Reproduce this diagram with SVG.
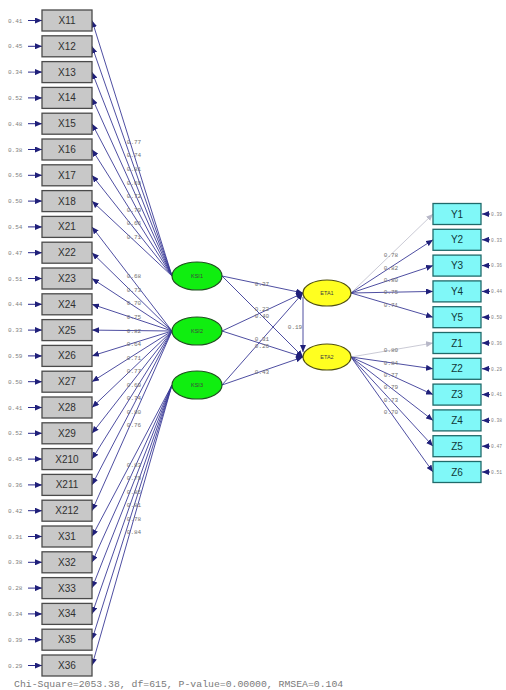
<svg xmlns="http://www.w3.org/2000/svg" width="506" height="690" viewBox="0 0 506 690">
<style>
.bx{fill:#c8c8c8;stroke:#4a4a4a;stroke-width:1.3}
.by{fill:#80f8f8;stroke:#206a6a;stroke-width:1.3}
.bt{font-family:"Liberation Sans",Arial,sans-serif;font-size:10px;fill:#303030;text-anchor:middle}
.byt{font-family:"Liberation Sans",Arial,sans-serif;font-size:10px;fill:#103838;text-anchor:middle}
.v{font-family:"Liberation Mono",monospace;font-size:6px;fill:#808080}
.vr{font-family:"Liberation Mono",monospace;font-size:4.6px;fill:#808080}
.vm{font-family:"Liberation Mono",monospace;font-size:6px;fill:#707070;text-anchor:middle}
.e{stroke:#26268a;stroke-width:1;fill:none}
.ln{stroke:#3a3a96;stroke-width:0.9;fill:none;marker-end:url(#ah)}
.lt{stroke:#c4c4d0;stroke-width:0.9;fill:none;marker-end:url(#ahl)}
.g{fill:#10ee10;stroke:#205020;stroke-width:1.2}
.y{fill:#ffff20;stroke:#505010;stroke-width:1.2}
.et{font-family:"Liberation Sans",Arial,sans-serif;font-size:5.5px;fill:#404040;text-anchor:middle}
.ft{font-family:"Liberation Mono",monospace;font-size:9.8px;fill:#7a7a7a}
</style>
<defs>
<marker id="ah" markerUnits="userSpaceOnUse" markerWidth="7" markerHeight="6" refX="7" refY="3" orient="auto"><path d="M0,0 L7,3 L0,6 z" fill="#20207a"/></marker>
<marker id="ahl" markerUnits="userSpaceOnUse" markerWidth="7" markerHeight="6" refX="7" refY="3" orient="auto"><path d="M0,0 L7,3 L0,6 z" fill="#b8b8c8"/></marker>
</defs>
<rect width="506" height="690" fill="#ffffff"/>
<g id="connectors">
<path class="ln" d="M172,276 L92,20.5"/><path class="ln" d="M172,276 L92,46.3"/><path class="ln" d="M172,276 L92,72.1"/><path class="ln" d="M172,276 L92,97.9"/>
<path class="ln" d="M172,276 L92,123.7"/><path class="ln" d="M172,276 L92,149.5"/><path class="ln" d="M172,276 L92,175.3"/><path class="ln" d="M172,276 L92,201.1"/>
<path class="ln" d="M172,331 L92,226.9"/><path class="ln" d="M172,331 L92,252.7"/><path class="ln" d="M172,331 L92,278.5"/><path class="ln" d="M172,331 L92,304.3"/>
<path class="ln" d="M172,331 L92,330.1"/><path class="ln" d="M172,331 L92,355.9"/><path class="ln" d="M172,331 L92,381.7"/><path class="ln" d="M172,331 L92,407.5"/>
<path class="ln" d="M172,331 L92,433.3"/><path class="ln" d="M172,331 L92,459.1"/><path class="ln" d="M172,331 L92,484.9"/><path class="ln" d="M172,331 L92,510.7"/>
<path class="ln" d="M172,385 L92,536.5"/><path class="ln" d="M172,385 L92,562.3"/><path class="ln" d="M172,385 L92,588.1"/><path class="ln" d="M172,385 L92,613.9"/>
<path class="ln" d="M172,385 L92,639.7"/><path class="ln" d="M172,385 L92,665.5"/>
<text class="vm" x="134" y="143.9">0.77</text><text class="vm" x="134" y="157.4">0.74</text><text class="vm" x="134" y="171">0.81</text><text class="vm" x="134" y="184.5">0.69</text>
<text class="vm" x="134" y="198">0.72</text><text class="vm" x="134" y="211.6">0.79</text><text class="vm" x="134" y="225.1">0.66</text><text class="vm" x="134" y="238.7">0.71</text>
<text class="vm" x="134" y="278.3">0.68</text><text class="vm" x="134" y="291.9">0.73</text><text class="vm" x="134" y="305.4">0.70</text><text class="vm" x="134" y="319">0.75</text>
<text class="vm" x="134" y="332.5">0.82</text><text class="vm" x="134" y="346.1">0.64</text><text class="vm" x="134" y="359.6">0.71</text><text class="vm" x="134" y="373.2">0.77</text>
<text class="vm" x="134" y="386.7">0.69</text><text class="vm" x="134" y="400.3">0.74</text><text class="vm" x="134" y="413.8">0.80</text><text class="vm" x="134" y="427.3">0.76</text>
<text class="vm" x="134" y="466.5">0.83</text><text class="vm" x="134" y="480.1">0.79</text><text class="vm" x="134" y="493.6">0.85</text><text class="vm" x="134" y="507.2">0.81</text>
<text class="vm" x="134" y="520.7">0.78</text><text class="vm" x="134" y="534.3">0.84</text>
<path class="ln" d="M222,276 L303,293"/><path class="ln" d="M222,276 L303,357"/>
<path class="ln" d="M222,331 L303,293"/><path class="ln" d="M222,331 L303,357"/>
<path class="ln" d="M222,385 L303,293"/><path class="ln" d="M222,385 L303,357"/>
<path class="ln" d="M303,297 L303,352"/>
<text class="vm" x="262" y="286">0.37</text><text class="vm" x="262" y="311">0.22</text><text class="vm" x="262" y="318">0.40</text>
<text class="vm" x="262" y="341">0.31</text><text class="vm" x="262" y="348">0.26</text><text class="vm" x="262" y="374">0.43</text>
<text class="vm" x="295" y="329">0.19</text>
<path class="lt" d="M351,293 L433,214"/><path class="ln" d="M351,293 L433,239.8"/><path class="ln" d="M351,293 L433,265.6"/>
<path class="ln" d="M351,293 L433,291.4"/><path class="ln" d="M351,293 L433,317.2"/>
<path class="lt" d="M351,357 L433,343"/><path class="ln" d="M351,357 L433,368.8"/><path class="ln" d="M351,357 L433,394.6"/>
<path class="ln" d="M351,357 L433,420.4"/><path class="ln" d="M351,357 L433,446.2"/><path class="ln" d="M351,357 L433,472"/>
<text class="vm" x="391" y="257.4">0.78</text><text class="vm" x="391" y="269.7">0.82</text><text class="vm" x="391" y="282">0.80</text>
<text class="vm" x="391" y="294.2">0.75</text><text class="vm" x="391" y="306.5">0.71</text>
<text class="vm" x="391" y="352.3">0.80</text><text class="vm" x="391" y="364.6">0.84</text><text class="vm" x="391" y="376.9">0.77</text>
<text class="vm" x="391" y="389.2">0.79</text><text class="vm" x="391" y="401.5">0.73</text><text class="vm" x="391" y="413.7">0.70</text>
</g>
<g id="X11" transform="translate(0,20.5)"><text class="v" x="8" y="2">0.41</text><path class="e" d="M28,0 L42,0" marker-end="url(#ah)"/><rect class="bx" x="42" y="-10.5" width="50" height="21"/><text class="bt" x="67" y="3.5">X11</text></g>
<g id="X12" transform="translate(0,46.3)"><text class="v" x="8" y="2">0.45</text><path class="e" d="M28,0 L42,0" marker-end="url(#ah)"/><rect class="bx" x="42" y="-10.5" width="50" height="21"/><text class="bt" x="67" y="3.5">X12</text></g>
<g id="X13" transform="translate(0,72.1)"><text class="v" x="8" y="2">0.34</text><path class="e" d="M28,0 L42,0" marker-end="url(#ah)"/><rect class="bx" x="42" y="-10.5" width="50" height="21"/><text class="bt" x="67" y="3.5">X13</text></g>
<g id="X14" transform="translate(0,97.9)"><text class="v" x="8" y="2">0.52</text><path class="e" d="M28,0 L42,0" marker-end="url(#ah)"/><rect class="bx" x="42" y="-10.5" width="50" height="21"/><text class="bt" x="67" y="3.5">X14</text></g>
<g id="X15" transform="translate(0,123.7)"><text class="v" x="8" y="2">0.48</text><path class="e" d="M28,0 L42,0" marker-end="url(#ah)"/><rect class="bx" x="42" y="-10.5" width="50" height="21"/><text class="bt" x="67" y="3.5">X15</text></g>
<g id="X16" transform="translate(0,149.5)"><text class="v" x="8" y="2">0.38</text><path class="e" d="M28,0 L42,0" marker-end="url(#ah)"/><rect class="bx" x="42" y="-10.5" width="50" height="21"/><text class="bt" x="67" y="3.5">X16</text></g>
<g id="X17" transform="translate(0,175.3)"><text class="v" x="8" y="2">0.56</text><path class="e" d="M28,0 L42,0" marker-end="url(#ah)"/><rect class="bx" x="42" y="-10.5" width="50" height="21"/><text class="bt" x="67" y="3.5">X17</text></g>
<g id="X18" transform="translate(0,201.1)"><text class="v" x="8" y="2">0.50</text><path class="e" d="M28,0 L42,0" marker-end="url(#ah)"/><rect class="bx" x="42" y="-10.5" width="50" height="21"/><text class="bt" x="67" y="3.5">X18</text></g>
<g id="X21" transform="translate(0,226.9)"><text class="v" x="8" y="2">0.54</text><path class="e" d="M28,0 L42,0" marker-end="url(#ah)"/><rect class="bx" x="42" y="-10.5" width="50" height="21"/><text class="bt" x="67" y="3.5">X21</text></g>
<g id="X22" transform="translate(0,252.7)"><text class="v" x="8" y="2">0.47</text><path class="e" d="M28,0 L42,0" marker-end="url(#ah)"/><rect class="bx" x="42" y="-10.5" width="50" height="21"/><text class="bt" x="67" y="3.5">X22</text></g>
<g id="X23" transform="translate(0,278.5)"><text class="v" x="8" y="2">0.51</text><path class="e" d="M28,0 L42,0" marker-end="url(#ah)"/><rect class="bx" x="42" y="-10.5" width="50" height="21"/><text class="bt" x="67" y="3.5">X23</text></g>
<g id="X24" transform="translate(0,304.3)"><text class="v" x="8" y="2">0.44</text><path class="e" d="M28,0 L42,0" marker-end="url(#ah)"/><rect class="bx" x="42" y="-10.5" width="50" height="21"/><text class="bt" x="67" y="3.5">X24</text></g>
<g id="X25" transform="translate(0,330.1)"><text class="v" x="8" y="2">0.33</text><path class="e" d="M28,0 L42,0" marker-end="url(#ah)"/><rect class="bx" x="42" y="-10.5" width="50" height="21"/><text class="bt" x="67" y="3.5">X25</text></g>
<g id="X26" transform="translate(0,355.9)"><text class="v" x="8" y="2">0.59</text><path class="e" d="M28,0 L42,0" marker-end="url(#ah)"/><rect class="bx" x="42" y="-10.5" width="50" height="21"/><text class="bt" x="67" y="3.5">X26</text></g>
<g id="X27" transform="translate(0,381.7)"><text class="v" x="8" y="2">0.50</text><path class="e" d="M28,0 L42,0" marker-end="url(#ah)"/><rect class="bx" x="42" y="-10.5" width="50" height="21"/><text class="bt" x="67" y="3.5">X27</text></g>
<g id="X28" transform="translate(0,407.5)"><text class="v" x="8" y="2">0.41</text><path class="e" d="M28,0 L42,0" marker-end="url(#ah)"/><rect class="bx" x="42" y="-10.5" width="50" height="21"/><text class="bt" x="67" y="3.5">X28</text></g>
<g id="X29" transform="translate(0,433.3)"><text class="v" x="8" y="2">0.52</text><path class="e" d="M28,0 L42,0" marker-end="url(#ah)"/><rect class="bx" x="42" y="-10.5" width="50" height="21"/><text class="bt" x="67" y="3.5">X29</text></g>
<g id="X210" transform="translate(0,459.1)"><text class="v" x="8" y="2">0.45</text><path class="e" d="M28,0 L42,0" marker-end="url(#ah)"/><rect class="bx" x="42" y="-10.5" width="50" height="21"/><text class="bt" x="67" y="3.5">X210</text></g>
<g id="X211" transform="translate(0,484.9)"><text class="v" x="8" y="2">0.36</text><path class="e" d="M28,0 L42,0" marker-end="url(#ah)"/><rect class="bx" x="42" y="-10.5" width="50" height="21"/><text class="bt" x="67" y="3.5">X211</text></g>
<g id="X212" transform="translate(0,510.7)"><text class="v" x="8" y="2">0.42</text><path class="e" d="M28,0 L42,0" marker-end="url(#ah)"/><rect class="bx" x="42" y="-10.5" width="50" height="21"/><text class="bt" x="67" y="3.5">X212</text></g>
<g id="X31" transform="translate(0,536.5)"><text class="v" x="8" y="2">0.31</text><path class="e" d="M28,0 L42,0" marker-end="url(#ah)"/><rect class="bx" x="42" y="-10.5" width="50" height="21"/><text class="bt" x="67" y="3.5">X31</text></g>
<g id="X32" transform="translate(0,562.3)"><text class="v" x="8" y="2">0.38</text><path class="e" d="M28,0 L42,0" marker-end="url(#ah)"/><rect class="bx" x="42" y="-10.5" width="50" height="21"/><text class="bt" x="67" y="3.5">X32</text></g>
<g id="X33" transform="translate(0,588.1)"><text class="v" x="8" y="2">0.28</text><path class="e" d="M28,0 L42,0" marker-end="url(#ah)"/><rect class="bx" x="42" y="-10.5" width="50" height="21"/><text class="bt" x="67" y="3.5">X33</text></g>
<g id="X34" transform="translate(0,613.9)"><text class="v" x="8" y="2">0.34</text><path class="e" d="M28,0 L42,0" marker-end="url(#ah)"/><rect class="bx" x="42" y="-10.5" width="50" height="21"/><text class="bt" x="67" y="3.5">X34</text></g>
<g id="X35" transform="translate(0,639.7)"><text class="v" x="8" y="2">0.39</text><path class="e" d="M28,0 L42,0" marker-end="url(#ah)"/><rect class="bx" x="42" y="-10.5" width="50" height="21"/><text class="bt" x="67" y="3.5">X35</text></g>
<g id="X36" transform="translate(0,665.5)"><text class="v" x="8" y="2">0.29</text><path class="e" d="M28,0 L42,0" marker-end="url(#ah)"/><rect class="bx" x="42" y="-10.5" width="50" height="21"/><text class="bt" x="67" y="3.5">X36</text></g>
<g id="KSI1"><ellipse class="g" cx="197" cy="276" rx="25" ry="14"/><text class="et" x="197" y="278">KSI1</text></g>
<g id="KSI2"><ellipse class="g" cx="197" cy="331" rx="25" ry="14"/><text class="et" x="197" y="333">KSI2</text></g>
<g id="KSI3"><ellipse class="g" cx="197" cy="385" rx="25" ry="14"/><text class="et" x="197" y="387">KSI3</text></g>
<g id="ETA1"><ellipse class="y" cx="327" cy="293" rx="24" ry="13"/><text class="et" x="327" y="295">ETA1</text></g>
<g id="ETA2"><ellipse class="y" cx="327" cy="357" rx="24" ry="13"/><text class="et" x="327" y="359">ETA2</text></g>
<g id="Y1" transform="translate(0,214)"><rect class="by" x="433" y="-10.5" width="48" height="21"/><text class="byt" x="457" y="3.5">Y1</text><path class="e" d="M490,0 L482,0" marker-end="url(#ah)"/><text class="vr" x="491" y="1.7">0.39</text></g>
<g id="Y2" transform="translate(0,239.8)"><rect class="by" x="433" y="-10.5" width="48" height="21"/><text class="byt" x="457" y="3.5">Y2</text><path class="e" d="M490,0 L482,0" marker-end="url(#ah)"/><text class="vr" x="491" y="1.7">0.33</text></g>
<g id="Y3" transform="translate(0,265.6)"><rect class="by" x="433" y="-10.5" width="48" height="21"/><text class="byt" x="457" y="3.5">Y3</text><path class="e" d="M490,0 L482,0" marker-end="url(#ah)"/><text class="vr" x="491" y="1.7">0.36</text></g>
<g id="Y4" transform="translate(0,291.4)"><rect class="by" x="433" y="-10.5" width="48" height="21"/><text class="byt" x="457" y="3.5">Y4</text><path class="e" d="M490,0 L482,0" marker-end="url(#ah)"/><text class="vr" x="491" y="1.7">0.44</text></g>
<g id="Y5" transform="translate(0,317.2)"><rect class="by" x="433" y="-10.5" width="48" height="21"/><text class="byt" x="457" y="3.5">Y5</text><path class="e" d="M490,0 L482,0" marker-end="url(#ah)"/><text class="vr" x="491" y="1.7">0.50</text></g>
<g id="Z1" transform="translate(0,343)"><rect class="by" x="433" y="-10.5" width="48" height="21"/><text class="byt" x="457" y="3.5">Z1</text><path class="e" d="M490,0 L482,0" marker-end="url(#ah)"/><text class="vr" x="491" y="1.7">0.36</text></g>
<g id="Z2" transform="translate(0,368.8)"><rect class="by" x="433" y="-10.5" width="48" height="21"/><text class="byt" x="457" y="3.5">Z2</text><path class="e" d="M490,0 L482,0" marker-end="url(#ah)"/><text class="vr" x="491" y="1.7">0.29</text></g>
<g id="Z3" transform="translate(0,394.6)"><rect class="by" x="433" y="-10.5" width="48" height="21"/><text class="byt" x="457" y="3.5">Z3</text><path class="e" d="M490,0 L482,0" marker-end="url(#ah)"/><text class="vr" x="491" y="1.7">0.41</text></g>
<g id="Z4" transform="translate(0,420.4)"><rect class="by" x="433" y="-10.5" width="48" height="21"/><text class="byt" x="457" y="3.5">Z4</text><path class="e" d="M490,0 L482,0" marker-end="url(#ah)"/><text class="vr" x="491" y="1.7">0.38</text></g>
<g id="Z5" transform="translate(0,446.2)"><rect class="by" x="433" y="-10.5" width="48" height="21"/><text class="byt" x="457" y="3.5">Z5</text><path class="e" d="M490,0 L482,0" marker-end="url(#ah)"/><text class="vr" x="491" y="1.7">0.47</text></g>
<g id="Z6" transform="translate(0,472)"><rect class="by" x="433" y="-10.5" width="48" height="21"/><text class="byt" x="457" y="3.5">Z6</text><path class="e" d="M490,0 L482,0" marker-end="url(#ah)"/><text class="vr" x="491" y="1.7">0.51</text></g>
<text class="ft" x="14" y="687">Chi-Square=2053.38, df=615, P-value=0.00000, RMSEA=0.104</text>
</svg>
